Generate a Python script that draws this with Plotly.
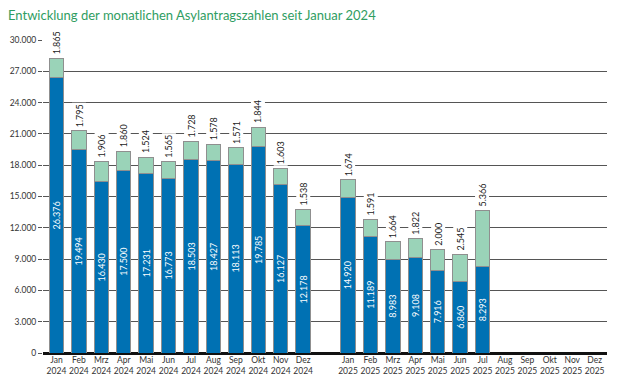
import plotly.graph_objects as go

months = ["Jan", "Feb", "Mrz", "Apr", "Mai", "Jun", "Jul", "Aug", "Sep", "Okt", "Nov", "Dez"]
years = ["2024", "2025"]

# Erstanträge (blue) and Folgeanträge (green)
blue_2024 = [26376, 19494, 16430, 17500, 17231, 16773, 18503, 18427, 18113, 19785, 16127, 12178]
green_2024 = [1865, 1795, 1906, 1860, 1524, 1565, 1728, 1578, 1571, 1844, 1603, 1538]
blue_2025 = [14920, 11189, 8983, 9108, 7916, 6860, 8293]
green_2025 = [1674, 1591, 1664, 1822, 2000, 2545, 5366]

y_ticks = [0, 3000, 6000, 9000, 12000, 15000, 18000, 21000, 24000, 27000, 30000]

BLUE = "#0071b3"
GREEN = "#9ad3b8"
OUTLINE = "#8f8f8f"
FONT = "Lato, 'Open Sans', sans-serif"


def fmt(v):
    return f"{v:,}".replace(",", ".")


cats_2024 = [f"{m}<br>{years[0]}" for m in months]
cats_2025 = [f"{m}<br>{years[1]}" for m in months]
gap = " "
category_order = cats_2024 + [gap] + cats_2025

x_data = cats_2024 + cats_2025[: len(blue_2025)]
blue = blue_2024 + blue_2025
green = green_2024 + green_2025
totals = [b + g for b, g in zip(blue, green)]

fig = go.Figure()
fig.add_trace(go.Bar(
    x=x_data, y=blue, marker=dict(color=BLUE, line=dict(color=OUTLINE, width=1)),
    text=[fmt(v) for v in blue], textposition="inside", insidetextanchor="middle",
    textangle=-90, constraintext="none",
    textfont=dict(color="white", size=9, family=FONT), width=0.64, showlegend=False,
))
fig.add_trace(go.Bar(
    x=x_data, y=green, marker=dict(color=GREEN, line=dict(color=OUTLINE, width=1)),
    width=0.64, showlegend=False,
))

for xc, t, g in zip(x_data, totals, green):
    fig.add_annotation(
        x=xc, y=t, xref="x", yref="y", text=fmt(g), showarrow=False,
        textangle=-90, yanchor="bottom", xanchor="center", yshift=2,
        bgcolor="white", borderpad=1,
        font=dict(size=9, color="#1a1a1a", family=FONT),
    )

fig.update_layout(
    width=620, height=380,
    margin=dict(l=43, r=13, t=40, b=27),
    barmode="stack", bargap=0.36,
    paper_bgcolor="white", plot_bgcolor="white",
    separators=",.",
    title=dict(
        text="Entwicklung der monatlichen Asylantragszahlen seit Januar 2024",
        x=8 / 620, xref="container", xanchor="left",
        y=1 - 15 / 380, yref="container", yanchor="middle",
        font=dict(size=13, color="#2f9d62", family=FONT),
    ),
    xaxis=dict(
        type="category", categoryorder="array", categoryarray=category_order,
        tickmode="array", tickvals=category_order,
        ticktext=[c if c != gap else "" for c in category_order],
        range=[-0.6, len(category_order) - 0.45],
        showgrid=False, showline=False, ticks="",
        tickfont=dict(size=8.5, color="#333333", family=FONT), automargin=False,
    ),
    yaxis=dict(
        range=[0, 30000], tickvals=y_ticks, tickformat=",",
        showgrid=True, gridcolor="#555555", gridwidth=1.2,
        zeroline=True, zerolinecolor="#111111", zerolinewidth=3,
        ticks="outside", ticklen=4, tickcolor="#555555",
        tickfont=dict(size=8.5, color="#333333", family=FONT), automargin=False,
    ),
)

fig.write_html(
    "out.html",
    config={"displayModeBar": False},
    post_script="document.body.style.margin='0';",
)
